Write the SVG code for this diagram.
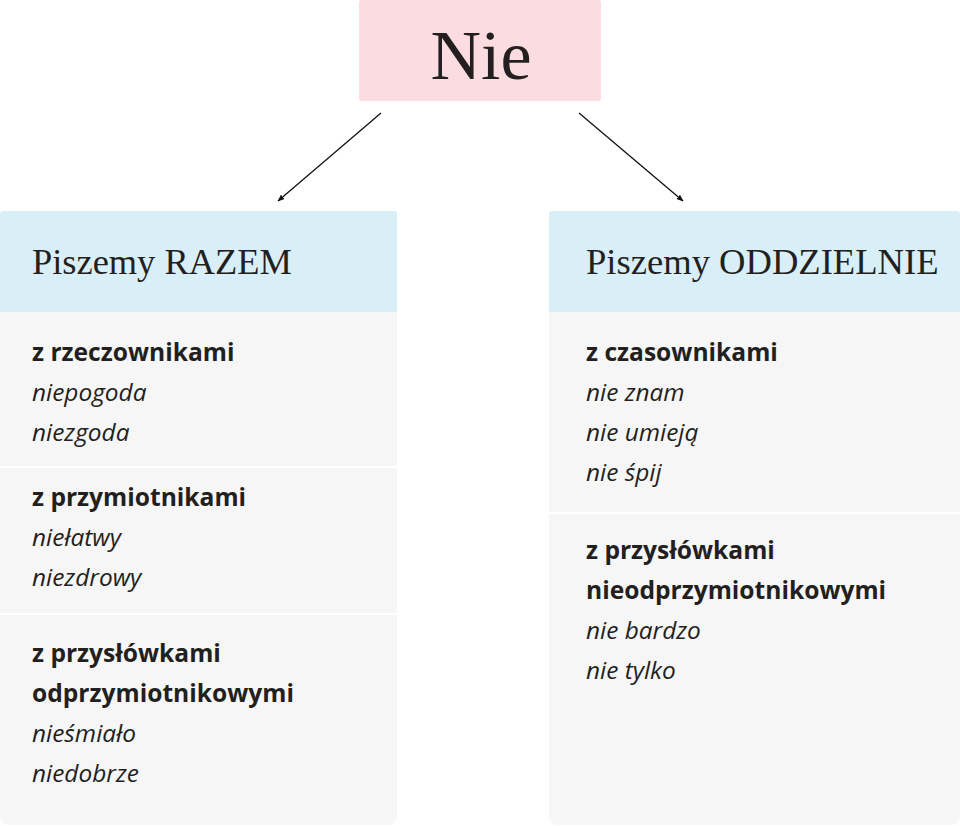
<svg xmlns="http://www.w3.org/2000/svg" width="960" height="826" viewBox="0 0 960 826">
<style>
.title{font-family:"Liberation Serif","Times New Roman",serif;fill:#231f20}
.b{font-family:"Open Sans","Liberation Sans",sans-serif;font-weight:700;font-size:24.6px;fill:#231f20}
.i{font-family:"Open Sans","Liberation Sans",sans-serif;font-style:italic;font-size:24.4px;fill:#231f20}
.hdr{fill:#d9eff8}
.body{fill:#f6f6f6}
.div{stroke:#ffffff;stroke-width:2}
.conn{stroke:#111;stroke-width:1.3;fill:none}
</style>
<defs>
<marker id="ah" viewBox="0 0 10 10" refX="9" refY="5" markerWidth="7" markerHeight="7" orient="auto" markerUnits="userSpaceOnUse">
<path d="M0,1 L10,5 L0,9 Z" fill="#111"/>
</marker>
</defs>
<rect width="960" height="826" fill="#ffffff"/>
<g id="nie">
<rect x="359" y="0" width="242" height="101" rx="3" fill="#fbdde1"/>
<text class="title" x="481" y="79" font-size="70" text-anchor="middle">Nie</text>
</g>
<g id="connectors">
<line class="conn" x1="381" y1="113" x2="278" y2="201" marker-end="url(#ah)"/>
<line class="conn" x1="579" y1="113" x2="683" y2="201" marker-end="url(#ah)"/>
</g>
<g id="razem">
<path class="body" d="M0,212 H397 V816 a9,9 0 0 1 -9,9 H9 a9,9 0 0 1 -9,-9 Z"/>
<path class="hdr" d="M3,211 H394 a3,3 0 0 1 3,3 V312 H0 V214 a3,3 0 0 1 3,-3 Z"/>
<text class="title" x="32" y="274" font-size="36.4">Piszemy RAZEM</text>
<line class="div" x1="0" y1="467" x2="397" y2="467"/>
<line class="div" x1="0" y1="614" x2="397" y2="614"/>
<text class="b" x="32" y="361">z rzeczownikami</text>
<text class="i" x="32" y="401">niepogoda</text>
<text class="i" x="32" y="441">niezgoda</text>
<text class="b" x="32" y="506">z przymiotnikami</text>
<text class="i" x="32" y="546">niełatwy</text>
<text class="i" x="32" y="586">niezdrowy</text>
<text class="b" x="32" y="662">z przysłówkami</text>
<text class="b" x="32" y="702">odprzymiotnikowymi</text>
<text class="i" x="32" y="742">nieśmiało</text>
<text class="i" x="32" y="782">niedobrze</text>
</g>
<g id="oddzielnie">
<path class="body" d="M549,212 H960 V816 a9,9 0 0 1 -9,9 H558 a9,9 0 0 1 -9,-9 Z"/>
<path class="hdr" d="M552,211 H957 a3,3 0 0 1 3,3 V312 H549 V214 a3,3 0 0 1 3,-3 Z"/>
<text class="title" x="586" y="274" font-size="36.6">Piszemy ODDZIELNIE</text>
<line class="div" x1="549" y1="513" x2="960" y2="513"/>
<text class="b" x="586" y="361">z czasownikami</text>
<text class="i" x="586" y="401">nie znam</text>
<text class="i" x="586" y="441">nie umieją</text>
<text class="i" x="586" y="481">nie śpij</text>
<text class="b" x="586" y="559">z przysłówkami</text>
<text class="b" x="586" y="599">nieodprzymiotnikowymi</text>
<text class="i" x="586" y="639">nie bardzo</text>
<text class="i" x="586" y="679">nie tylko</text>
</g>
</svg>
